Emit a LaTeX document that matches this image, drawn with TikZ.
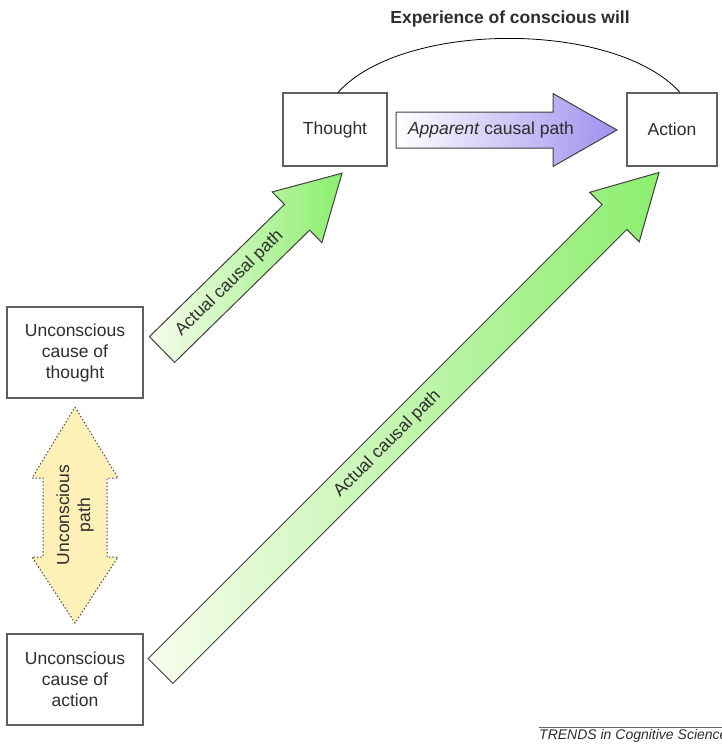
\documentclass[tikz,border=0pt]{standalone}
\usepackage{fontspec}
\setmainfont{Liberation Sans}

\definecolor{boxgray}{RGB}{95,95,95}
\definecolor{textgray}{RGB}{45,45,45}
\definecolor{palegreen}{RGB}{248,253,238}
\definecolor{pathgreen}{RGB}{140,238,110}
\definecolor{apparentblue}{RGB}{158,144,238}
\definecolor{pathyellow}{RGB}{253,241,184}

\tikzset{
  box/.style={draw=boxgray, line width=1.2pt, fill=white, align=center,
    inner sep=0pt, text=textgray, font=\fontsize{17.5}{21}\selectfont},
  blockarrow/.style={draw=black!75, line width=1pt},
  arrowtext/.style={text=textgray, font=\fontsize{17.5}{21}\selectfont},
}

\begin{document}
\begin{tikzpicture}[x=1pt,y=-1pt]
  \useasboundingbox (0,0) rectangle (721,744);

  \node[font=\bfseries\fontsize{17.5}{21}\selectfont, text=textgray] (will) at (510,19) {Experience of conscious will};

  % boxes
  \node[box, minimum width=104pt, minimum height=73pt] (thought) at (335,129.5) {Thought};
  \node[box, minimum width=90pt, minimum height=73pt] (action) at (672,129.5) {Action};
  \node[box, minimum width=136pt, minimum height=91pt] (ucthought) at (75,352.5) {Unconscious\\cause of\\thought};
  \node[box, minimum width=136pt, minimum height=91pt] (ucaction) at (75,679.5) {Unconscious\\cause of\\action};

  % experience arc
  \draw[line width=0.8pt] ([xshift=3pt]thought.north) .. controls +(65,-72) and +(-65,-72) .. ([xshift=8pt]action.north);

  % apparent path
  \begin{scope}[shift={(396,130)}]
    \shadedraw[blockarrow, left color=white, right color=apparentblue]
      (0,-18) -- (157,-18) -- (157,-36.5) -- (221,0) -- (157,36.5) -- (157,18) -- (0,18) -- cycle;
  \end{scope}
  \node[arrowtext] (apparent) at (491,130) {\textit{Apparent} causal path};

  % actual path to thought
  \begin{scope}[shift={(162,349.5)}, rotate=44.4]
    \shadedraw[blockarrow, left color=palegreen, right color=pathgreen]
      (0,-18) -- (189,-18) -- (189,-35.5) -- (252,0) -- (189,35.5) -- (189,18) -- (0,18) -- cycle;
    \node[arrowtext, rotate=44.4] (actualthought) at (94.5,0) {Actual causal path};
  \end{scope}

  % actual path to action
  \begin{scope}[shift={(160.5,671)}, rotate=45]
    \shadedraw[blockarrow, left color=palegreen, right color=pathgreen]
      (0,-17.5) -- (642,-17.5) -- (642,-35) -- (705,0) -- (642,35) -- (642,17.5) -- (0,17.5) -- cycle;
    \node[arrowtext, rotate=45] (actualaction) at (321,0) {Actual causal path};
  \end{scope}

  % unconscious path
  \filldraw[fill=pathyellow, draw=black!70, line width=1pt, dash pattern=on 1.5pt off 2pt]
    (75,407) -- (118,478) -- (107,478) -- (107,557) -- (118,557) -- (75,623)
    -- (32,557) -- (43,557) -- (43,478) -- (32,478) -- cycle;
  \node[arrowtext, rotate=90, align=center] (unconscious) at (75,515) {Unconscious\\path};

  % source line
  \node[anchor=north west, inner sep=0pt, text=textgray, font=\itshape\fontsize{14}{16}\selectfont] (trends) at (539,729) {TRENDS in Cognitive Sciences};
  \draw[black!60, line width=0.8pt] ([yshift=2pt]trends.north west) -- ([yshift=2pt]trends.north east);

\end{tikzpicture}
\end{document}
